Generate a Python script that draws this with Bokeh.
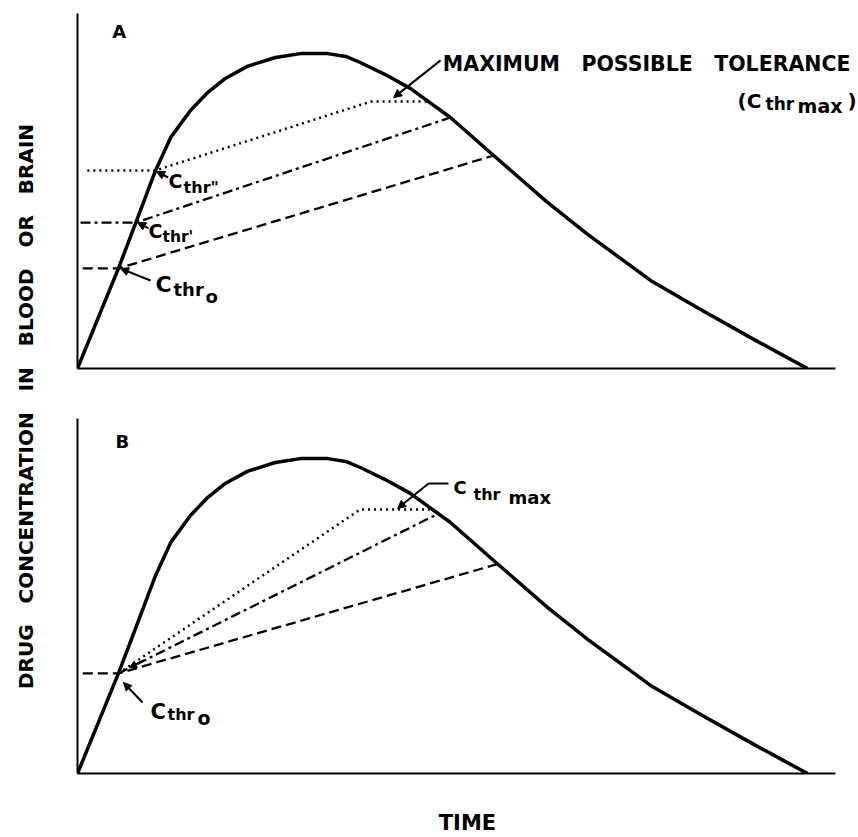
from math import pi
from bokeh.plotting import figure
from bokeh.models import Range1d, FixedTicker, Label, Arrow, NormalHead
from bokeh.layouts import row, column
from bokeh.embed import file_html
from bokeh.resources import INLINE

# ---- data (time and concentration in arbitrary units, 0-100) ----
curve_t = [0, 5.4, 7.7, 10.3, 12.3, 14.9, 17.2, 19.5, 22.4, 26.1, 29.4, 33.0, 35.4,
           37.3, 40.6, 43.9, 49.2, 54.9, 62.0, 67.3, 75.6, 82.2, 88.8, 93.1, 96.3]
curve_c = [0, 28.2, 41.1, 55.8, 65.1, 72.7, 77.8, 81.7, 85.1, 87.6, 88.7, 88.7, 87.9,
           86.2, 82.8, 78.9, 70.7, 60.0, 46.8, 37.8, 24.8, 16.6, 8.7, 3.7, 0]

# Panel A thresholds
a_dash_t = [0.7, 5.4, 54.9]
a_dash_c = [28.2, 28.2, 60.0]
a_dashdot_t = [0.4, 7.7, 49.2]
a_dashdot_c = [41.1, 41.1, 70.7]
a_dot_t = [1.3, 10.3, 38.7, 46.2]
a_dot_c = [55.8, 55.8, 75.2, 75.2]

# Panel B thresholds
b_dash_t = [0.7, 5.4, 55.4]
b_dash_c = [28.2, 28.2, 59.0]
b_dashdot_t = [5.4, 47.6]
b_dashdot_c = [28.2, 73.2]
b_dot_t = [5.4, 37.3, 46.6]
b_dot_c = [28.2, 74.4, 74.4]

FONT = "DejaVu Sans"
NB = "\u00a0"
LIFT = 1.8  # vertical correction for label baselines (data units)


def make_fig(height, top, bottom):
    p = figure(width=802, height=height, x_range=Range1d(0, 102.9), y_range=Range1d(0, 100),
               output_backend="svg", toolbar_location=None,
               min_border_left=21, min_border_right=1,
               min_border_top=top, min_border_bottom=bottom)
    p.grid.visible = False
    p.outline_line_color = None
    p.background_fill_color = "white"
    p.border_fill_color = "white"
    for ax in p.axis:
        ax.ticker = FixedTicker(ticks=[])
        ax.major_tick_line_color = None
        ax.minor_tick_line_color = None
        ax.major_tick_out = 0
        ax.major_tick_in = 0
        ax.major_label_standoff = 0
        ax.major_label_text_font_size = "0px"
        ax.axis_line_width = 2
        ax.axis_line_color = "black"
    p.xaxis.bounds = (0, 100)
    return p


def lab(p, x, y, text, size, bold=True, align="left", baseline="alphabetic", angle=0.0, lift=LIFT):
    p.add_layout(Label(x=x, y=y + lift, text=text, text_font=FONT, text_font_size=f"{size}px",
                       text_font_style="bold" if bold else "normal",
                       text_align=align, text_baseline=baseline, angle=angle,
                       text_color="black"))


def arrow(p, x0, y0, x1, y1, head=True, size=8):
    end = NormalHead(size=size, fill_color="black", line_color="black", line_width=1) if head else None
    p.add_layout(Arrow(end=end, x_start=x0, y_start=y0, x_end=x1, y_end=y1,
                       line_width=2, line_color="black"))


def draw_common(p):
    p.line(curve_t, curve_c, line_width=3.5, line_color="black", line_join="round")


# ---------------- Panel A ----------------
pa = make_fig(390, 13, 22)
draw_common(pa)
pa.line(a_dash_t, a_dash_c, line_width=2.3, line_color="black", line_dash="10 5")
pa.line(a_dashdot_t, a_dashdot_c, line_width=2.3, line_color="black", line_dash="10 4 3 4")
pa.line(a_dot_t, a_dot_c, line_width=2.5, line_color="black", line_dash="2 4")

lab(pa, 4.6, 93.2, "A", 18)
# C_thr''
lab(pa, 12.0, 51.0, "C", 19)
lab(pa, 14.0, 49.3, 'thr"', 16)
arrow(pa, 11.96, 53.8, 10.42, 55.49)
# C_thr'
lab(pa, 9.37, 36.9, "C", 19)
lab(pa, 11.21, 35.2, "thr'", 15.5)
arrow(pa, 9.37, 39.44, 7.92, 41.13)
# C_thr0
lab(pa, 10.29, 21.97, "C", 22)
lab(pa, 12.66, 20.56, "thr", 18)
lab(pa, 16.89, 18.59, "o", 18)
arrow(pa, 9.63, 24.79, 5.67, 28.17)
# maximum possible tolerance
lab(pa, 48.2, 83.9, NB.join(["MAXIMUM", "", "", "POSSIBLE", "", "", "TOLERANCE"]), 20.5)
arrow(pa, 47.9, 86.8, 41.7, 76.3)
lab(pa, 87.07, 73.52, "(C", 20)
lab(pa, 90.77, 72.68, "thr", 17)
lab(pa, 95.0, 72.11, "max", 19)
lab(pa, 102.8, 73.52, ")", 20, align="right")

# ---------------- Panel B ----------------
pb = make_fig(447, 28, 64)
draw_common(pb)
pb.line(b_dash_t, b_dash_c, line_width=2.3, line_color="black", line_dash="10 5")
pb.line(b_dashdot_t, b_dashdot_c, line_width=2.3, line_color="black", line_dash="10 4 3 4")
pb.line(b_dot_t, b_dot_c, line_width=2.5, line_color="black", line_dash="2 4")
pb.xaxis.axis_label = "TIME"
pb.xaxis.axis_label_text_font = FONT
pb.xaxis.axis_label_text_font_size = "21px"
pb.xaxis.axis_label_text_font_style = "bold"
pb.xaxis.axis_label_text_color = "black"
pb.xaxis.axis_label_text_line_height = 1.0
pb.xaxis.axis_label_standoff = 37

lab(pb, 5.0, 91.8, "B", 18)
# C_thr0
lab(pb, 9.63, 15.5, "C", 21)
lab(pb, 11.87, 14.93, "thr", 16)
lab(pb, 15.83, 13.8, "o", 19)
arrow(pb, 8.58, 20.0, 6.07, 25.63)
arrow(pb, 8.71, 31.83, 6.86, 29.86, size=7)
# C_thr max
lab(pb, 49.6, 78.87, "C", 18)
lab(pb, 52.24, 76.9, "thr", 16)
lab(pb, 56.86, 76.06, "max", 18)
arrow(pb, 48.94, 81.69, 46.31, 81.69, head=False)
arrow(pb, 46.31, 81.69, 42.22, 74.65)

# ---------------- shared y label ----------------
pl = figure(width=56, height=837, x_range=Range1d(0, 56), y_range=Range1d(0, 837),
            output_backend="svg", toolbar_location=None,
            min_border=0, min_border_left=0, min_border_right=0,
            min_border_top=0, min_border_bottom=0)
pl.axis.visible = False
pl.grid.visible = False
pl.outline_line_color = None
ylabel = (NB * 3).join(["DRUG", "CONCENTRATION", "IN", "BLOOD", "OR", "BRAIN"])
lab(pl, 25, 431, ylabel, 20, align="center", baseline="middle", angle=pi / 2, lift=0)

layout = row(pl, column(pa, pb))
open("out.html", "w").write(file_html(layout, INLINE))
